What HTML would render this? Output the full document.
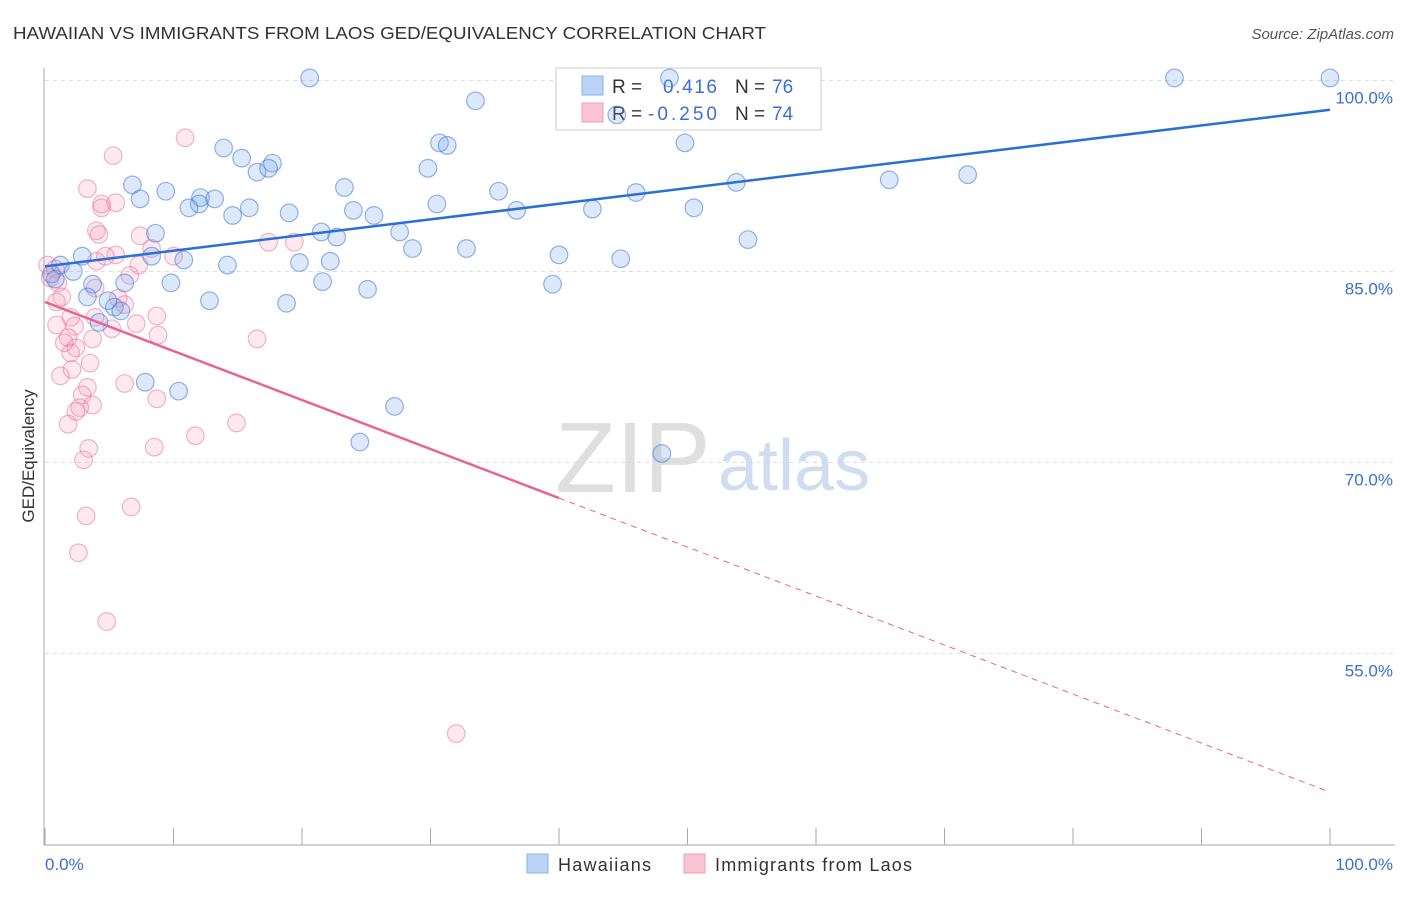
<!DOCTYPE html>
<html><head><meta charset="utf-8"><style>
body{margin:0;background:#fff;font-family:"Liberation Sans",sans-serif;}
svg text{font-family:"Liberation Sans",sans-serif;}
</style></head><body>
<svg id="chart" width="1406" height="892" xmlns="http://www.w3.org/2000/svg">
<text x="13" y="39" font-size="17.5" fill="#333" textLength="753" lengthAdjust="spacingAndGlyphs">HAWAIIAN VS IMMIGRANTS FROM LAOS GED/EQUIVALENCY CORRELATION CHART</text>
<text x="1394" y="39" font-size="15" fill="#555" text-anchor="end" font-style="italic">Source: ZipAtlas.com</text>
<text transform="translate(34,456) rotate(-90)" font-size="17" fill="#333" text-anchor="middle">GED/Equivalency</text>
<g id="grid"></g>
<text x="555" y="492" font-size="100" fill="#d8d8d8" font-family="Liberation Serif" opacity="0.8">ZIP</text>
<text x="718" y="490" font-size="72" fill="#c5d5ee" opacity="0.8">atlas</text>
<g>
<rect x="556" y="68" width="265" height="62" fill="#fff" stroke="#ccc"/>
<rect x="582" y="76" width="21" height="19" fill="#bcd3f5" stroke="#8ab0ea"/>
<rect x="582" y="103" width="21" height="19" fill="#f9c4d4" stroke="#ef9db6"/>
<text x="612" y="93" font-size="19" fill="#333">R =</text>
<text x="663" y="93" font-size="19" fill="#3b6fd4" textLength="54">0.416</text>
<text x="735" y="93" font-size="19" fill="#333">N =</text>
<text x="772" y="93" font-size="19" fill="#3b6fd4">76</text>
<text x="612" y="120" font-size="19" fill="#333">R =</text>
<text x="648" y="120" font-size="19" fill="#3b6fd4" textLength="69">-0.250</text>
<text x="735" y="120" font-size="19" fill="#333">N =</text>
<text x="772" y="120" font-size="19" fill="#3b6fd4">74</text>
</g>
<g id="points"></g>
<g id="lines"></g>
<line x1="44" y1="845" x2="1395" y2="845" stroke="#aaa" stroke-width="1"/>
<line x1="44" y1="68" x2="44" y2="845" stroke="#aaa" stroke-width="1"/>
<g id="xticks"></g>
<text x="45" y="870" font-size="17" fill="#3b6fd4">0.0%</text>
<text x="1393" y="870" font-size="17" fill="#3b6fd4" text-anchor="end">100.0%</text>
<g>
<rect x="527" y="854" width="21" height="19" fill="#bcd3f5" stroke="#8ab0ea"/>
<text x="558" y="871" font-size="18" fill="#333" textLength="93">Hawaiians</text>
<rect x="684" y="854" width="21" height="19" fill="#f9c4d4" stroke="#ef9db6"/>
<text x="715" y="871" font-size="18" fill="#333" textLength="197">Immigrants from Laos</text>
</g>
</svg>
<script>
const yTicks=[55,70,85,100];
const blueX=[20.6,48.6,87.9,100,33.5,44.5,49.8,30.7,31.3,13.9,15.3,17.7,16.5,17.4,29.8,71.8,65.7,53.8,6.8,23.3,35.3,46.0,9.4,7.4,12.1,13.2,12.0,11.2,30.5,15.9,50.5,42.6,24.0,36.7,19.0,14.6,25.6,21.5,22.7,27.6,8.6,54.7,28.6,32.8,40.0,8.3,10.8,44.8,19.8,22.2,2.9,1.2,14.2,2.2,0.5,0.8,9.8,21.6,39.5,6.2,3.7,25.1,3.3,4.9,12.8,18.8,5.4,5.9,4.2,7.8,10.4,27.2,24.5,48.0];
const blueY=[100.2,100.2,100.2,100.2,98.4,97.3,95.1,95.1,94.9,94.7,93.9,93.5,92.8,93.1,93.1,92.6,92.2,92.0,91.8,91.6,91.3,91.2,91.3,90.7,90.8,90.7,90.3,90.0,90.3,90.0,90.0,89.9,89.8,89.8,89.6,89.4,89.4,88.1,87.7,88.1,88.0,87.5,86.8,86.8,86.3,86.2,85.9,86.0,85.7,85.8,86.2,85.5,85.5,85.0,84.8,84.4,84.1,84.2,84.0,84.1,84.0,83.6,83.0,82.7,82.7,82.5,82.2,81.9,81.0,76.3,75.6,74.4,71.6,70.7];
const pinkX=[10.9,5.3,3.3,5.5,4.4,4.4,4.0,4.2,7.4,17.4,19.4,8.3,5.5,4.7,10.0,4.0,7.3,0.2,0.8,6.6,0.4,1.0,3.9,1.3,0.9,5.7,6.2,2.0,8.7,3.9,7.1,0.9,2.3,5.2,8.8,1.8,1.5,3.7,16.5,2.4,2.0,3.5,2.1,1.2,3.3,6.2,2.9,8.7,3.7,2.7,2.4,14.9,1.8,11.7,8.5,3.4,3.0,6.7,3.2,2.6,4.8,32.0];
const pinkY=[95.5,94.1,91.5,90.4,90.0,90.3,88.2,87.9,87.8,87.3,87.3,86.8,86.3,86.2,86.2,85.8,85.5,85.5,85.2,84.7,84.5,84.1,83.7,83.0,82.6,82.9,82.4,81.4,81.5,81.4,80.9,80.8,80.7,80.5,80.0,79.8,79.4,79.7,79.7,79.0,78.6,77.8,77.3,76.8,75.9,76.2,75.3,75.0,74.5,74.3,74.0,73.1,73.0,72.1,71.2,71.1,70.2,66.5,65.8,62.9,57.5,48.7];
const blueLine=[85.4,97.7];
const pinkLine=[82.6,44.1];
const pinkSolidEnd=40;
const NS='http://www.w3.org/2000/svg';
const X=v=>45+v*12.85;
const Y=v=>80.5+(100-v)*12.73;
function mk(t,a,p){const e=document.createElementNS(NS,t);for(const k in a)e.setAttribute(k,a[k]);p.appendChild(e);return e;}
const grid=document.getElementById('grid');
yTicks.forEach(t=>{
 const l=mk('line',{x1:45,x2:1393,y1:Y(t),y2:Y(t),stroke:'#ddd','stroke-dasharray':'4,4'},grid);
 
 
 const tx=mk('text',{x:1393,y:Y(t)+23,'font-size':17,fill:'#3b6fd4','text-anchor':'end'},grid);
 tx.textContent=t.toFixed(1)+'%';
 
 
});
const xt=document.getElementById('xticks');
for(let i=0;i<=10;i++){
 const l=mk('line',{x1:X(i*10),x2:X(i*10),y1:828,y2:845,stroke:'#aaa'},xt);
 
 
}
const pts=document.getElementById('points');
pinkX.forEach((x,i)=>{
 const c=mk('circle',{cx:X(x),cy:Y(pinkY[i]),r:8.8,fill:'rgba(244,143,177,0.2)',stroke:'rgba(232,110,150,0.5)','stroke-width':1.2},pts);
 
 
});
blueX.forEach((x,i)=>{
 const c=mk('circle',{cx:X(x),cy:Y(blueY[i]),r:8.8,fill:'rgba(120,165,235,0.25)',stroke:'rgba(60,120,215,0.55)','stroke-width':1.2},pts);
 
 
});
const ln=document.getElementById('lines');
const b=mk('line',{x1:X(0),y1:Y(blueLine[0]),x2:X(100),y2:Y(blueLine[1]),stroke:'#2a6fd6','stroke-width':2.5},ln);


const pv=x=>pinkLine[0]+(pinkLine[1]-pinkLine[0])*x/100;
const p1=mk('line',{x1:X(0),y1:Y(pv(0)),x2:X(pinkSolidEnd),y2:Y(pv(pinkSolidEnd)),stroke:'#e8648f','stroke-width':2.5},ln);


const p2=mk('line',{x1:X(pinkSolidEnd),y1:Y(pv(pinkSolidEnd)),x2:X(100),y2:Y(pv(100)),stroke:'#e8648f','stroke-width':1,'stroke-dasharray':'6,5'},ln);


</script>
</body></html>
